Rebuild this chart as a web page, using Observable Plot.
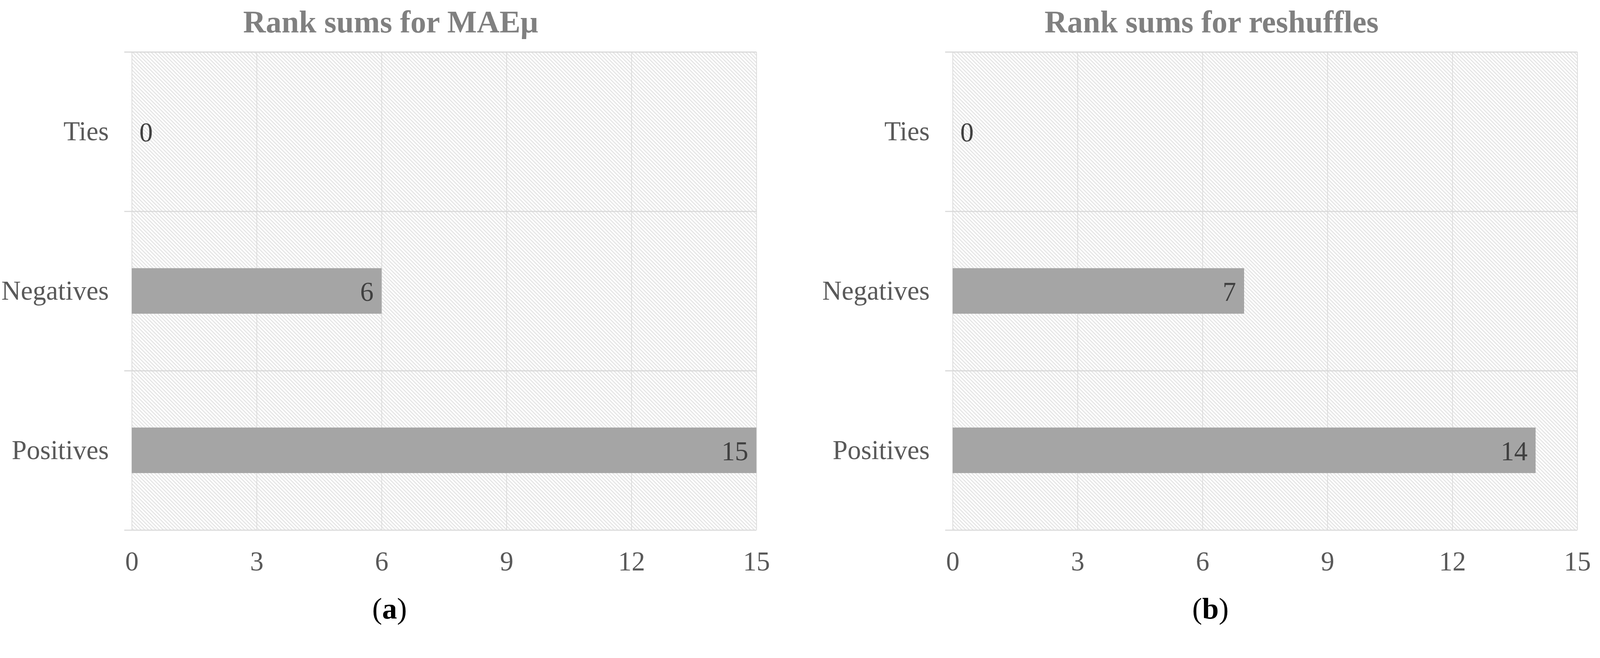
<!DOCTYPE html>
<html>
<head>
<meta charset="utf-8">
<script src="https://cdn.jsdelivr.net/npm/d3@7"></script>
<script src="https://cdn.jsdelivr.net/npm/@observablehq/plot@0.6"></script>
<style>
  html, body { margin: 0; padding: 0; background: #fff; overflow: hidden; }
  #page { position: relative; width: 4288px; height: 1684px; overflow: hidden; background: #fff; transform-origin: 0 0; }
  .panel { position: absolute; top: 0; }
  .title { position: absolute; top: 17px; font-family: 'Liberation Serif', 'Times New Roman', serif; font-weight: bold; font-size: 84px; line-height: 84px; color: #808080; text-align: center; white-space: nowrap; }
  .caption { position: absolute; top: 1590px; font-family: 'Liberation Serif', 'Times New Roman', serif; font-weight: bold; font-size: 80px; line-height: 80px; color: #000; text-align: center; white-space: nowrap; }
  .caption .p { font-weight: normal; }
</style>
</head>
<body>
<div id="page"></div>
<script>
// ---- data ----
const categories = ["Ties", "Negatives", "Positives"];
const maeValues = [0, 6, 15];
const reshuffleValues = [0, 7, 14];
const xTicks = [0, 3, 6, 9, 12, 15];
const xMax = 15;
const titles = ["Rank sums for MAEμ", "Rank sums for reshuffles"];
const captions = ["a", "b"];

// ---- layout ----
const H = 1684, MT = 139, MB = 264, ML = 333;
const panels = [
  {values: maeValues, left: 0, width: 2144, marginRight: 117, id: "hatchA"},
  {values: reshuffleValues, left: 2200, width: 2088, marginRight: 61, id: "hatchB"}
];

const page = document.getElementById("page");

// fit the 4288-wide design into the actual viewport
const vw = document.documentElement.clientWidth || window.innerWidth;
if (vw && Math.abs(vw - 4288) > 1) {
  page.style.transform = `scale(${vw / 4288})`;
}

panels.forEach((p, k) => {
  const data = categories.map((c, i) => ({cat: c, value: p.values[i]}));
  const bw = (H - MT - MB) / categories.length;
  const barH = 122;
  const inset = (bw - barH) / 2;
  const font = "'Liberation Serif', 'Times New Roman', serif";

  const chart = Plot.plot({
    width: p.width,
    height: H,
    marginTop: MT,
    marginBottom: MB,
    marginLeft: ML,
    marginRight: p.marginRight,
    style: {fontFamily: font, fontSize: "72px", color: "#595959", background: "transparent"},
    x: {domain: [0, xMax], insetLeft: 20},
    y: {domain: categories, padding: 0},
    marks: [
      Plot.barX(data, {y: "cat", x: () => xMax, fill: `url(#${p.id})`}),
      Plot.ruleX(xTicks, {stroke: "#dadada", strokeWidth: 2}),
      Plot.ruleY(categories, {y: d => d, dy: -bw / 2, stroke: "#d9d9d9", strokeWidth: 3}),
      Plot.ruleY([categories[categories.length - 1]], {y: d => d, dy: bw / 2, stroke: "#d9d9d9", strokeWidth: 3}),
      Plot.barX(data, {y: "cat", x: "value", fill: "#a5a5a5", insetTop: inset, insetBottom: inset}),
      Plot.text(data.filter(d => d.value > 0), {x: "value", y: "cat", text: d => String(d.value), textAnchor: "end", dx: -22, dy: 3, fill: "#404040", fontSize: 72}),
      Plot.text(data.filter(d => d.value === 0), {x: "value", y: "cat", text: d => String(d.value), textAnchor: "start", dx: 20, dy: 3, fill: "#404040", fontSize: 72}),
      Plot.axisX({ticks: xTicks, tickSize: 0, tickPadding: 57, label: null, tickFormat: d => String(d), fontSize: 72}),
      Plot.axisY({tickSize: 0, tickPadding: 42, label: null, fontSize: 72})
    ]
  });

  // hatch pattern definition
  const svg = d3.select(chart);
  const defs = svg.insert("defs", ":first-child");
  const pat = defs.append("pattern")
    .attr("id", p.id)
    .attr("patternUnits", "userSpaceOnUse")
    .attr("width", 8).attr("height", 7)
    .attr("patternTransform", "rotate(45)");
  pat.append("rect").attr("width", 8).attr("height", 7).attr("fill", "#ffffff");
  pat.append("line").attr("x1", 0).attr("x2", 8).attr("y1", 1.5).attr("y2", 1.5)
    .attr("stroke", "#e2e2e2").attr("stroke-width", 2.6);

  const wrap = document.createElement("div");
  wrap.className = "panel";
  wrap.style.left = p.left + "px";
  wrap.appendChild(chart);
  page.appendChild(wrap);

  const t = document.createElement("div");
  t.className = "title";
  t.textContent = titles[k];
  t.style.left = (p.left + 1047 - 1000) + "px";
  t.style.width = "2000px";
  page.appendChild(t);

  const c = document.createElement("div");
  c.className = "caption";
  c.innerHTML = `<span class="p">(</span>${captions[k]}<span class="p">)</span>`;
  c.style.left = (p.left + 1044 - 500) + "px";
  c.style.width = "1000px";
  page.appendChild(c);
});
</script>
</body>
</html>
